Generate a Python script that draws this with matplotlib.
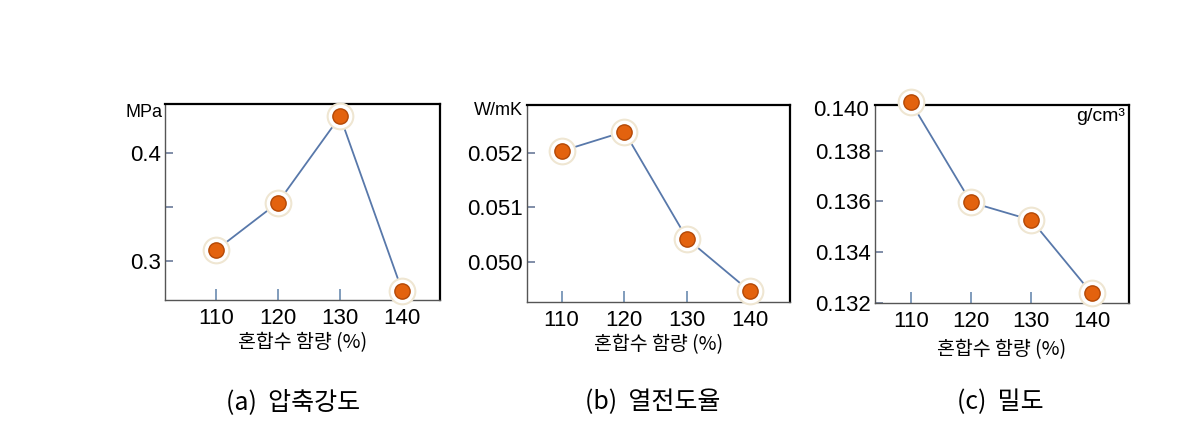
import matplotlib.pyplot as plt

plt.rcParams['font.family'] = ['Liberation Sans', 'DejaVu Sans']
kfont = ['Noto Sans CJK KR', 'DejaVu Sans']

# data
mix_water = [110, 120, 130, 140]
xtick_labels = ['110', '120', '130', '140']

strength = [0.310, 0.354, 0.4336, 0.2725]          # MPa
conductivity = [0.05204, 0.0524, 0.05042, 0.04945]  # W/mK
density = [0.13993, 0.13596, 0.13526, 0.13237]      # g/cm3

strength_ticks = [0.30, 0.35, 0.40]
strength_tick_labels = ['0.3', '', '0.4']
cond_ticks = [0.050, 0.051, 0.052]
cond_tick_labels = ['0.050', '0.051', '0.052']
dens_ticks = [0.132, 0.134, 0.136, 0.138]
dens_tick_labels = ['0.132', '0.134', '0.136', '0.138']

xlabel = '혼합수 함량 (%)'
captions = ['(a)  압축강도', '(b)  열전도율', '(c)  밀도']

fig = plt.figure(figsize=(12, 4.29), dpi=100)

axes_pos = [
    [0.1375, 0.3007, 0.2292, 0.4569],
    [0.4392, 0.2967, 0.2192, 0.4585],
    [0.7292, 0.2944, 0.2117, 0.4608],
]
xlims = [(101.8, 146.1), (104.5, 146.4), (104.1, 146.2)]
ylims = [(0.2640, 0.4450), (0.049258, 0.052891), (0.132, 0.1398)]
series = [strength, conductivity, density]
yticks = [strength_ticks, cond_ticks, dens_ticks]
yticklabels = [strength_tick_labels, cond_tick_labels, dens_tick_labels]
xlabel_pad = [2, 2, 5]


def draw_panel(ax, vals):
    ax.plot(mix_water, vals, color='#5878aa', lw=1.3, zorder=2)
    # glowing orange balls
    ax.plot(mix_water, vals, 'o', ms=20, mfc='#efe6d2', mec='none', zorder=3, clip_on=False)
    ax.plot(mix_water, vals, 'o', ms=17, mfc='white', mec='none', zorder=4, clip_on=False)
    ax.plot(mix_water, vals, 'o', ms=11, mfc='#e3620e', mec='#b34806', mew=1.0,
            zorder=5, clip_on=False)


for i in range(3):
    ax = fig.add_axes(axes_pos[i])
    draw_panel(ax, series[i])
    ax.set_xlim(*xlims[i])
    ax.set_ylim(*ylims[i])
    ax.set_xticks(mix_water)
    ax.set_xticklabels(xtick_labels)
    ax.set_yticks(yticks[i])
    ax.set_yticklabels(yticklabels[i])
    ax.tick_params(axis='x', direction='in', length=8, width=1.2, color='#6b8bb0',
                   labelsize=16, pad=6)
    ax.tick_params(axis='y', direction='in', length=6, width=1.2, color='#6b7a99',
                   labelsize=16, pad=3)
    for s in ['top', 'right']:
        ax.spines[s].set_color('black')
        ax.spines[s].set_linewidth(1.6)
    for s in ['left', 'bottom']:
        ax.spines[s].set_color('#555555')
        ax.spines[s].set_linewidth(1.0)
    ax.set_xlabel(xlabel, family=kfont, fontsize=14, labelpad=xlabel_pad[i])
    if i == 0:
        ax.text(-0.01, 0.955, 'MPa', transform=ax.transAxes, ha='right', va='center',
                fontsize=13)
    elif i == 1:
        ax.text(-0.015, 0.97, 'W/mK', transform=ax.transAxes, ha='right', va='center',
                fontsize=13)
    else:
        ax.text(0.985, 0.94, 'g/cm³', transform=ax.transAxes, ha='right', va='center',
                fontsize=14)
        ax.text(-0.025, 0.972, '0.140', transform=ax.transAxes, ha='right', va='center',
                fontsize=16)

cap_x = [0.244, 0.544, 0.834]
for i in range(3):
    fig.text(cap_x[i], 0.063, captions[i], family=kfont, fontsize=18, ha='center',
             va='center', fontweight='light')

plt.savefig('out.png', dpi=100)
